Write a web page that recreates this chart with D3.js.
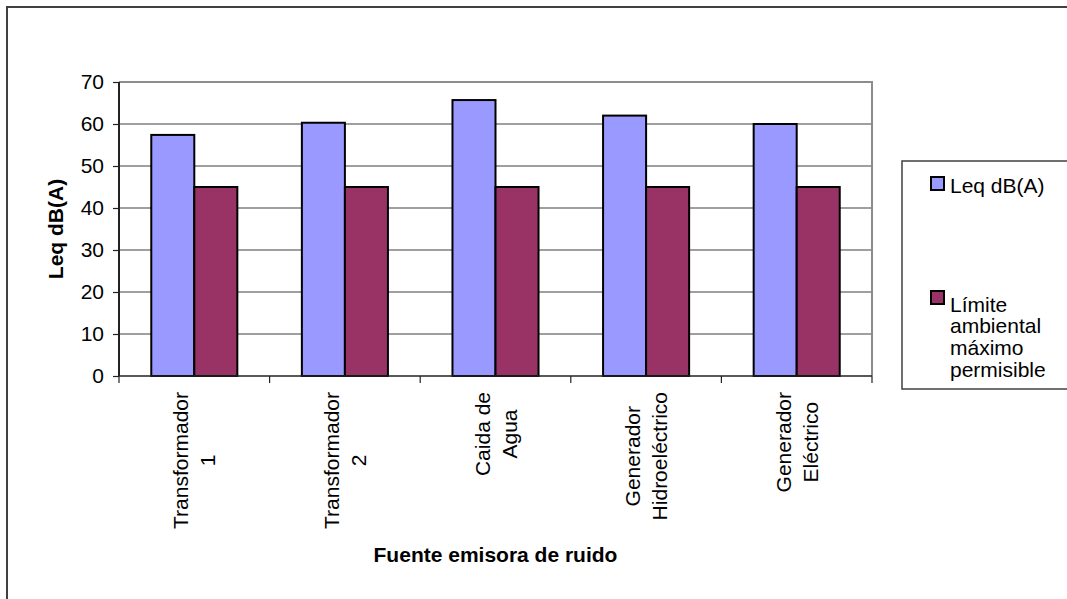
<!DOCTYPE html>
<html>
<head>
<meta charset="utf-8">
<script src="https://cdn.jsdelivr.net/npm/d3@7"></script>
<style>
  html, body { margin: 0; padding: 0; background: #fff; }
  svg { display: block; font-family: "Liberation Sans", Arial, sans-serif; }
</style>
</head>
<body>
<svg id="chart" width="1067" height="599"></svg>
<script>
// Noise sources (each label is drawn on two lines)
const categories = [
  ["Transformador", "1"],
  ["Transformador", "2"],
  ["Caida de", "Agua"],
  ["Generador", "Hidroeléctrico"],
  ["Generador", "Eléctrico"]
];
// Measured equivalent level, dB(A)
const leqValues = [57.4, 60.3, 65.7, 62.0, 60.0];
// Maximum permissible environmental limit, dB(A)
const limitValues = [45, 45, 45, 45, 45];
const seriesNames = ["Leq dB(A)", "Límite ambiental máximo permisible"];
const legendLines = [["Leq dB(A)"], ["Límite", "ambiental", "máximo", "permisible"]];
const yTicks = [0, 10, 20, 30, 40, 50, 60, 70];

const colors = ["#9999FF", "#993366"];
const svg = d3.select("#chart");

// outer chart frame
svg.append("rect")
  .attr("x", 7).attr("y", 7).attr("width", 1120).attr("height", 700)
  .attr("fill", "none").attr("stroke", "#404040").attr("stroke-width", 2);

const plot = { left: 119, right: 872, top: 82, bottom: 376 };

const y = d3.scaleLinear().domain([0, 70]).range([plot.bottom, plot.top]);
const x = d3.scaleBand().domain(d3.range(categories.length))
  .range([plot.left, plot.right]).paddingInner(0).paddingOuter(0);
const xs = d3.scaleBand().domain([0, 1]).range([0, x.bandwidth()])
  .paddingInner(0).paddingOuter(0.75);

// horizontal gridlines
svg.append("g").selectAll("line")
  .data(yTicks.filter(t => t > 0 && t < 70))
  .join("line")
  .attr("x1", plot.left).attr("x2", plot.right)
  .attr("y1", d => y(d)).attr("y2", d => y(d))
  .attr("stroke", "#404040").attr("stroke-width", 1.2);

// plot area frame (top and right)
svg.append("path")
  .attr("d", `M${plot.left},${y(70)}H${plot.right}V${plot.bottom}`)
  .attr("fill", "none").attr("stroke", "#8c8c8c").attr("stroke-width", 2);

// bars
const rows = categories.map((c, i) => [leqValues[i], limitValues[i]]);
const groups = svg.append("g").selectAll("g")
  .data(rows).join("g")
  .attr("transform", (d, i) => `translate(${x(i)},0)`);
groups.selectAll("rect")
  .data(d => d.map((v, s) => ({ v, s })))
  .join("rect")
  .attr("x", d => xs(d.s))
  .attr("width", xs.bandwidth())
  .attr("y", d => y(d.v))
  .attr("height", d => y(0) - y(d.v))
  .attr("fill", d => colors[d.s])
  .attr("stroke", "#000").attr("stroke-width", 2);

// y axis
const yAxis = d3.axisLeft(y).tickValues(yTicks).tickSize(6).tickPadding(9);
const gy = svg.append("g").attr("transform", `translate(${plot.left},0)`).call(yAxis);
gy.select(".domain").attr("stroke", "#222").attr("stroke-width", 2)
  .attr("d", `M0,${plot.top}V${plot.bottom}`);
gy.selectAll(".tick line").attr("stroke", "#222").attr("stroke-width", 1.2);
gy.selectAll(".tick text").attr("font-size", 21).attr("fill", "#000")
  .attr("font-family", "Liberation Sans, Arial, sans-serif");

// x axis: baseline and category boundary ticks
const gx = svg.append("g");
gx.append("line")
  .attr("x1", plot.left).attr("x2", plot.right)
  .attr("y1", plot.bottom).attr("y2", plot.bottom)
  .attr("stroke", "#222").attr("stroke-width", 1.5);
const bounds = d3.range(categories.length + 1).map(i => plot.left + i * x.step());
gx.selectAll("line.bt").data(bounds).join("line").attr("class", "bt")
  .attr("x1", d => d).attr("x2", d => d)
  .attr("y1", plot.bottom).attr("y2", plot.bottom + 7)
  .attr("stroke", "#222").attr("stroke-width", 1.2);

// rotated, centred two-line category labels
const labelTop = 392;
categories.forEach((lines, i) => {
  const cx = x(i) + x.bandwidth() / 2;
  const g = gx.append("g");
  const texts = lines.map((ln, k) =>
    g.append("text")
      .attr("x", 0).attr("y", -6 + k * 27)
      .attr("text-anchor", "middle")
      .attr("font-size", 21).attr("fill", "#000")
      .text(ln));
  const maxW = d3.max(texts, t => t.node().getComputedTextLength());
  g.attr("transform", `translate(${cx},${labelTop + maxW / 2}) rotate(-90)`);
});

// axis titles
svg.append("text")
  .attr("transform", `translate(63,${(plot.top + plot.bottom) / 2}) rotate(-90)`)
  .attr("text-anchor", "middle").attr("font-size", 21).attr("font-weight", "bold")
  .text("Leq dB(A)");
svg.append("text")
  .attr("x", (plot.left + plot.right) / 2).attr("y", 562)
  .attr("text-anchor", "middle").attr("font-size", 21).attr("font-weight", "bold")
  .text("Fuente emisora de ruido");

// legend
const lg = svg.append("g");
lg.append("rect")
  .attr("x", 902).attr("y", 161).attr("width", 220).attr("height", 228)
  .attr("fill", "#fff").attr("stroke", "#404040").attr("stroke-width", 1.5);
const legendTops = [177, 291];
const legendBase = [193, 311.5];
seriesNames.forEach((name, s) => {
  lg.append("rect")
    .attr("x", 931).attr("y", legendTops[s]).attr("width", 13).attr("height", 13)
    .attr("fill", colors[s]).attr("stroke", "#000").attr("stroke-width", 2);
  legendLines[s].forEach((ln, k) => {
    lg.append("text")
      .attr("x", 950).attr("y", legendBase[s] + k * 21.8)
      .attr("font-size", 21).attr("fill", "#000")
      .text(ln);
  });
});
</script>
</body>
</html>
